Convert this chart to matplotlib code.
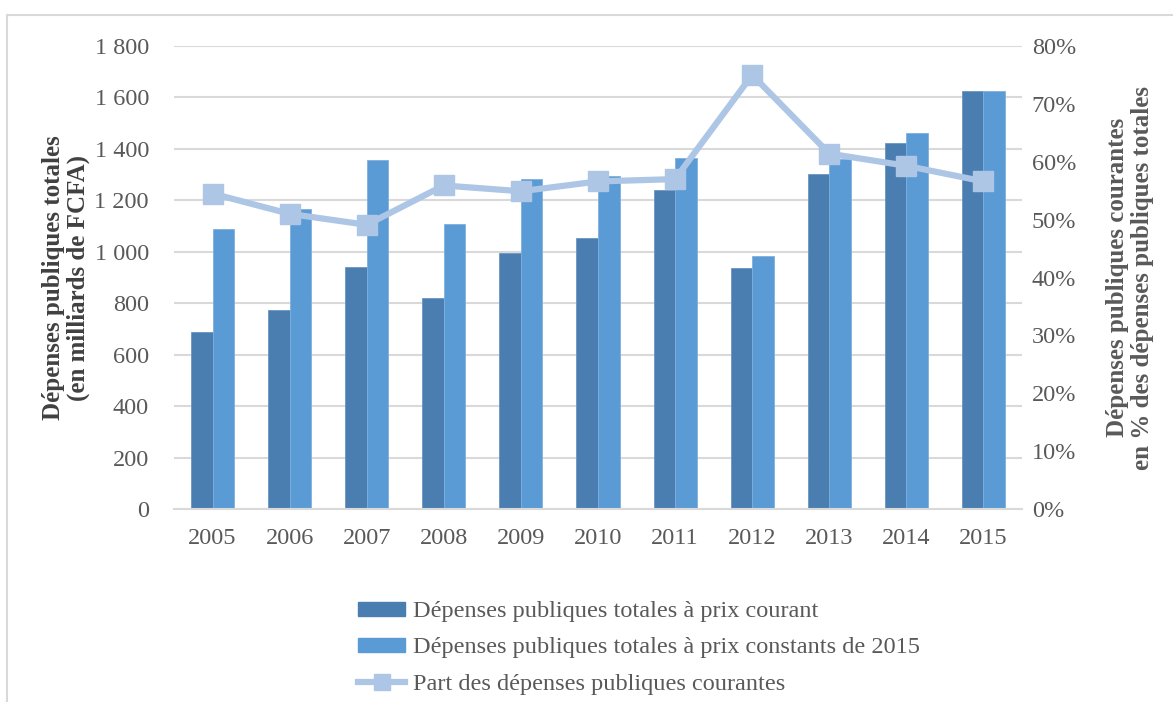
import numpy as np
import matplotlib.pyplot as plt
from matplotlib.patches import Rectangle
from matplotlib.lines import Line2D
from matplotlib.ticker import FuncFormatter

years = ['2005', '2006', '2007', '2008', '2009', '2010',
         '2011', '2012', '2013', '2014', '2015']
# milliards de FCFA
courant = [690, 775, 940, 820, 995, 1053, 1240, 936, 1301, 1422, 1625]
constant_2015 = [1089, 1168, 1357, 1109, 1281, 1296, 1365, 984, 1360, 1461, 1625]
# part des depenses courantes (%)
part_courantes = [54.5, 51.0, 49.1, 55.9, 54.9, 56.6, 57.0, 75.0, 61.4, 59.3, 56.6]

dark = '#4a7eb0'
light = '#5b9bd5'
line_col = '#adc6e5'
txt = '#595959'
grid = '#d9d9d9'

plt.rcParams['font.family'] = ['Liberation Serif', 'DejaVu Serif']

fig = plt.figure(figsize=(11.73, 7.02), dpi=100)
ax = fig.add_axes([0.1483, 0.2749, 0.723, 0.6596])

x = np.arange(len(years))
w = 0.28
ax.bar(x - w / 2, courant, w, color=dark, edgecolor='#6a95c0', linewidth=0.6, zorder=2,
       label='Dépenses publiques totales à prix courant')
ax.bar(x + w / 2, constant_2015, w, color=light, edgecolor='#7fb0de', linewidth=0.6, zorder=2,
       label='Dépenses publiques totales à prix constants de 2015')

ax.set_xlim(-0.5, len(years) - 0.5)
ax.set_ylim(0, 1800)
ax.set_yticks(range(0, 1801, 200))
ax.yaxis.set_major_formatter(FuncFormatter(lambda v, p: f'{int(v):,}'.replace(',', ' ')))
ax.set_xticks(x)
ax.set_xticklabels(years)
ax.yaxis.grid(True, color=grid, linewidth=1.5, zorder=0)
ax.set_axisbelow(True)
for s in ['top', 'right', 'left']:
    ax.spines[s].set_visible(False)
ax.spines['bottom'].set_color(grid)
ax.spines['bottom'].set_linewidth(1.5)
ax.tick_params(axis='both', length=0, labelsize=17.5, labelcolor=txt)
ax.tick_params(axis='x', pad=14)
ax.tick_params(axis='y', pad=18)
ax.set_ylabel('Dépenses publiques totales\n(en milliards de FCFA)', fontsize=18,
              fontweight='bold', color='#404040', linespacing=1.1)
ax.yaxis.set_label_coords(-0.099, 0.5)

ax2 = ax.twinx()
ax2.plot(x, part_courantes, color=line_col, linewidth=4.5, marker='s', markersize=14,
         markeredgecolor=line_col, zorder=3)
ax2.set_ylim(0, 80)
ax2.set_yticks(range(0, 81, 10))
ax2.yaxis.set_major_formatter(FuncFormatter(lambda v, p: f'{int(v)}%'))
for s in ['top', 'right', 'left', 'bottom']:
    ax2.spines[s].set_visible(False)
ax2.tick_params(axis='y', length=0, labelsize=17.5, labelcolor=txt, pad=7)
ax2.set_ylabel('Dépenses publiques courantes\nen % des dépenses publiques totales', fontsize=18,
               fontweight='bold', color=txt, linespacing=1.1)
ax2.yaxis.set_label_coords(1.099, 0.5)

handles = [
    Rectangle((0, 0), 1, 1, color=dark),
    Rectangle((0, 0), 1, 1, color=light),
    Line2D([0], [0], color=line_col, linewidth=4.5, marker='s', markersize=11),
]
labels = ['Dépenses publiques totales à prix courant',
          'Dépenses publiques totales à prix constants de 2015',
          'Part des dépenses publiques courantes']
leg = fig.legend(handles, labels, loc='center', bbox_to_anchor=(0.545, 0.077), frameon=False,
                 fontsize=17.5, handlelength=1.9, handleheight=0.5, handletextpad=0.35,
                 labelspacing=0.62, labelcolor=txt)

# chart frame
fig.add_artist(Rectangle((7 / 1173, -0.2), 2.0, 0.2 + 1 - 15 / 702, transform=fig.transFigure,
                         fill=False, edgecolor=grid, linewidth=1.5))

fig.savefig('out.png', dpi=100)
